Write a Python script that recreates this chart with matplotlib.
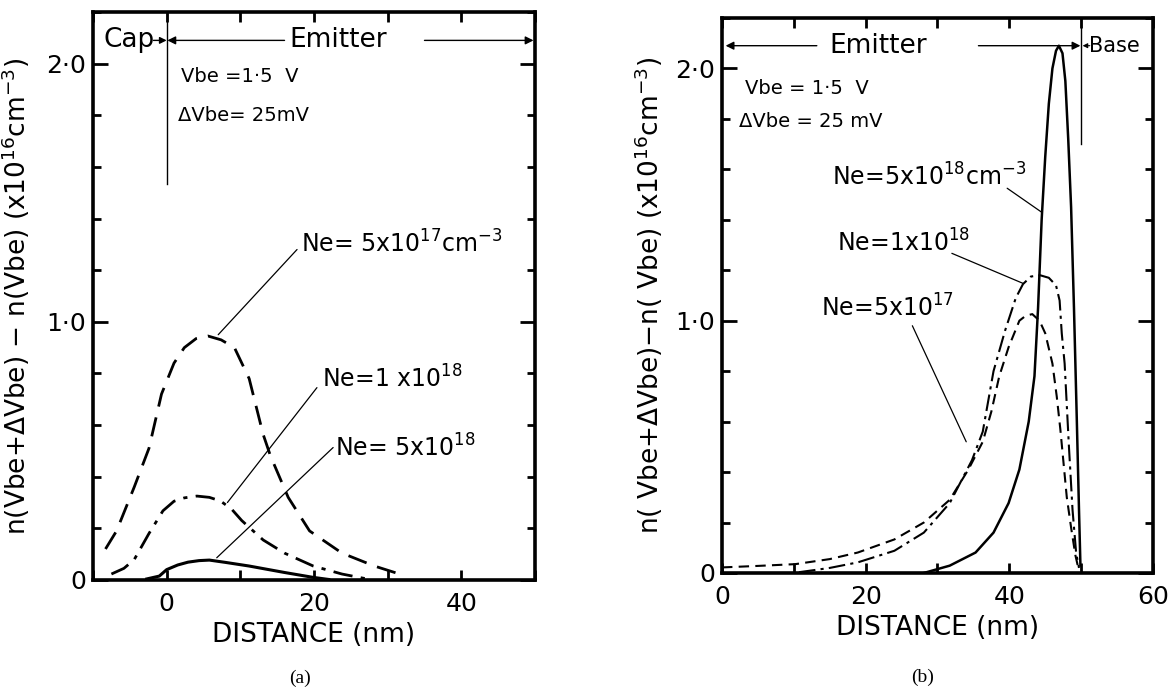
import matplotlib
matplotlib.use('Agg')
import matplotlib.pyplot as plt
from matplotlib.ticker import MultipleLocator

plt.rcParams['font.family'] = ['DejaVu Sans']
plt.rcParams['mathtext.fontset'] = 'dejavusans'

# ---------------- data: panel (a) ----------------
a_x_5e17 = [-8.3, -6.8, -4.4, -2.4, -0.7, 1.0, 2.4, 4.0, 5.6, 7.4, 9.2, 11.2, 13.1, 14.1, 16.5, 19.4, 23.8, 28.2, 32.5]
a_y_5e17 = [0.12, 0.19, 0.36, 0.51, 0.72, 0.84, 0.90, 0.935, 0.945, 0.93, 0.90, 0.78, 0.564, 0.48, 0.32, 0.19, 0.104, 0.054, 0.015]

a_x_1e18 = [-7.5, -5.8, -4.4, -2.4, -0.5, 1.0, 2.4, 4.1, 5.8, 7.3, 8.8, 10.2, 13.1, 16.0, 19.9, 23.8, 27.2]
a_y_1e18 = [0.023, 0.045, 0.079, 0.18, 0.268, 0.305, 0.318, 0.325, 0.32, 0.306, 0.275, 0.23, 0.155, 0.104, 0.054, 0.023, 0.004]

a_x_5e18 = [-2.7, -1.0, 0.0, 1.5, 2.9, 4.4, 5.8, 8.0, 11.2, 13.5, 16.0, 19.9, 22.0]
a_y_5e18 = [0.004, 0.015, 0.04, 0.058, 0.069, 0.075, 0.077, 0.068, 0.054, 0.042, 0.029, 0.01, 0.002]

# ---------------- data: panel (b) ----------------
b_x_5e17 = [0, 5, 10.2, 15, 18.9, 24, 28.1, 31.7, 34.3, 36.3, 37.5, 38.6, 39.9, 41.4, 42.3, 43.2, 44.2, 45.0,
            46.0, 46.6, 47.1, 47.6, 48.0, 48.6, 49.2, 49.6]
b_y_5e17 = [0.022, 0.028, 0.035, 0.055, 0.081, 0.133, 0.2, 0.29, 0.41, 0.52, 0.64, 0.78, 0.895, 1.0, 1.02, 1.026,
            1.0, 0.95, 0.83, 0.70, 0.57, 0.42, 0.30, 0.18, 0.07, 0.02]

b_x_1e18 = [10.7, 15, 18.9, 24, 28.1, 31.7, 34.8, 36.3, 37.8, 39.4, 40.9, 41.9, 43.0, 44.3, 45.5, 46.5, 47.0,
            47.3, 47.7, 48.3, 48.8, 49.3, 49.7]
b_y_1e18 = [0.003, 0.02, 0.042, 0.088, 0.16, 0.277, 0.447, 0.56, 0.8, 0.96, 1.09, 1.145, 1.175, 1.18, 1.17, 1.14,
            1.08, 0.95, 0.83, 0.5, 0.25, 0.08, 0.02]

b_x_5e18 = [28.1, 31.7, 35.3, 37.8, 39.9, 41.4, 42.7, 43.5, 44.0, 44.5, 45.0, 45.5, 46.0, 46.5, 46.9, 47.4,
            47.8, 48.2, 48.6, 49.0, 49.4, 49.7, 49.9]
b_y_5e18 = [0.0, 0.029, 0.081, 0.16, 0.277, 0.41, 0.6, 0.78, 1.05, 1.40, 1.65, 1.86, 2.0, 2.07, 2.09, 2.06,
            1.95, 1.72, 1.45, 1.05, 0.6, 0.25, 0.03]

ylabel_a = r"n(Vbe+ΔVbe) $-$ n(Vbe) (x10$^{16}$cm$^{-3}$)"
ylabel_b = r"n( Vbe+ΔVbe)$-$n( Vbe) (x10$^{16}$cm$^{-3}$)"
xlabel = "DISTANCE (nm)"
y_ticks = [0, 1, 2]
y_ticklabels = ["0", "1·0", "2·0"]

fig = plt.figure(figsize=(11.74, 6.93), dpi=100)
axa = fig.add_axes([0.0792, 0.1631, 0.3765, 0.8196])
axb = fig.add_axes([0.615, 0.1732, 0.3671, 0.8009])


def style(ax, xlim, xticks, xlabels, ylabel, ylab_x):
    ax.set_xlim(*xlim)
    ax.set_ylim(0, 2.2)
    for s in ax.spines.values():
        s.set_linewidth(2.6)
    ax.set_xticks(xticks)
    ax.set_xticklabels(xlabels)
    ax.set_yticks(y_ticks)
    ax.set_yticklabels(y_ticklabels)
    ax.yaxis.set_minor_locator(MultipleLocator(0.2))
    ax.tick_params(axis='both', which='both', direction='in', top=True, right=True, labelsize=18)
    ax.tick_params(axis='y', which='major', length=11, width=2, pad=5)
    ax.tick_params(axis='y', which='minor', length=6, width=2)
    ax.tick_params(axis='x', which='major', length=7, width=2, pad=9)
    ax.set_xlabel(xlabel, fontsize=19, labelpad=4)
    ax.set_ylabel(ylabel, fontsize=19)
    ax.yaxis.set_label_coords(ylab_x, 0.5)


style(axa, (-10, 50), [-10, 0, 10, 20, 30, 40, 50], ["", "0", "", "20", "", "40", ""], ylabel_a, -0.138)
style(axb, (0, 60), [0, 10, 20, 30, 40, 50, 60], ["0", "", "20", "", "40", "", "60"], ylabel_b, -0.132)

# ---------------- panel (a) curves ----------------
axa.plot(a_x_5e17, a_y_5e17, color='black', lw=2.0, dashes=(7, 4))
axa.plot(a_x_1e18, a_y_1e18, color='black', lw=2.0, dashes=(7, 3, 1.5, 3))
axa.plot(a_x_5e18, a_y_5e18, color='black', lw=2.2)

thin = dict(arrowstyle='-', color='black', lw=0.9, shrinkA=0, shrinkB=0)
axa.text(18.2, 1.30, r"Ne= 5x10$^{17}$cm$^{-3}$", fontsize=17, va='center', ha='left')
axa.annotate("", xy=(7.0, 0.95), xytext=(17.7, 1.28), arrowprops=thin)
axa.text(21.1, 0.78, r"Ne=1 x10$^{18}$", fontsize=17, va='center', ha='left')
axa.annotate("", xy=(8.25, 0.30), xytext=(20.4, 0.745), arrowprops=thin)
axa.text(22.8, 0.513, r"Ne= 5x10$^{18}$", fontsize=17, va='center', ha='left')
axa.annotate("", xy=(6.8, 0.086), xytext=(22.6, 0.513), arrowprops=thin)

# header
axa.plot([0, 0], [2.2, 1.535], color='black', lw=1.0)
axa.text(-8.6, 2.09, "Cap", fontsize=19, va='center', ha='left')
axa.annotate("", xy=(0, 2.09), xytext=(-1.8, 2.09),
             arrowprops=dict(arrowstyle='-|>', color='black', lw=1.0, mutation_scale=10, shrinkA=0, shrinkB=0))
axa.annotate("", xy=(0.1, 2.09), xytext=(16.0, 2.09),
             arrowprops=dict(arrowstyle='-|>', color='black', lw=1.0, mutation_scale=12, shrinkA=0, shrinkB=0))
axa.text(23.3, 2.09, "Emitter", fontsize=19, va='center', ha='center')
axa.annotate("", xy=(49.8, 2.09), xytext=(35.0, 2.09),
             arrowprops=dict(arrowstyle='-|>', color='black', lw=1.0, mutation_scale=12, shrinkA=0, shrinkB=0))
axa.text(1.9, 1.95, "Vbe =1·5  V", fontsize=14, va='center', ha='left')
axa.text(1.5, 1.80, "ΔVbe= 25mV", fontsize=14, va='center', ha='left')

# ---------------- panel (b) curves ----------------
axb.plot(b_x_5e17, b_y_5e17, color='black', lw=1.5, dashes=(5, 3))
axb.plot(b_x_1e18, b_y_1e18, color='black', lw=1.5, dashes=(8, 2.5, 1.5, 2.5))
axb.plot(b_x_5e18, b_y_5e18, color='black', lw=1.8)

axb.text(15.3, 1.57, r"Ne=5x10$^{18}$cm$^{-3}$", fontsize=17, va='center', ha='left')
axb.annotate("", xy=(44.5, 1.43), xytext=(39.7, 1.525), arrowprops=thin)
axb.text(16.0, 1.307, r"Ne=1x10$^{18}$", fontsize=17, va='center', ha='left')
axb.annotate("", xy=(41.9, 1.148), xytext=(32.0, 1.267), arrowprops=thin)
axb.text(13.8, 1.05, r"Ne=5x10$^{17}$", fontsize=17, va='center', ha='left')
axb.annotate("", xy=(34.0, 0.52), xytext=(26.5, 0.98), arrowprops=thin)

axb.plot([50, 50], [2.2, 1.70], color='black', lw=1.0)
axb.annotate("", xy=(0.5, 2.09), xytext=(13.2, 2.09),
             arrowprops=dict(arrowstyle='-|>', color='black', lw=1.0, mutation_scale=12, shrinkA=0, shrinkB=0))
axb.text(21.7, 2.09, "Emitter", fontsize=19, va='center', ha='center')
axb.annotate("", xy=(49.9, 2.09), xytext=(35.7, 2.09),
             arrowprops=dict(arrowstyle='-|>', color='black', lw=1.0, mutation_scale=12, shrinkA=0, shrinkB=0))
axb.annotate("", xy=(50.2, 2.09), xytext=(51.2, 2.09),
             arrowprops=dict(arrowstyle='-|>', color='black', lw=0.8, mutation_scale=7, shrinkA=0, shrinkB=0))
axb.text(51.1, 2.09, "Base", fontsize=15, va='center', ha='left')
axb.text(3.2, 1.92, "Vbe = 1·5  V", fontsize=14, va='center', ha='left')
axb.text(2.3, 1.79, "ΔVbe = 25 mV", fontsize=14, va='center', ha='left')

fig.text(300 / 1174, 1 - 678 / 693, "(a)", fontsize=14, family='Liberation Serif', ha='center', va='center')
fig.text(923 / 1174, 1 - 677 / 693, "(b)", fontsize=14, family='Liberation Serif', ha='center', va='center')

fig.savefig("out.png", dpi=100)
